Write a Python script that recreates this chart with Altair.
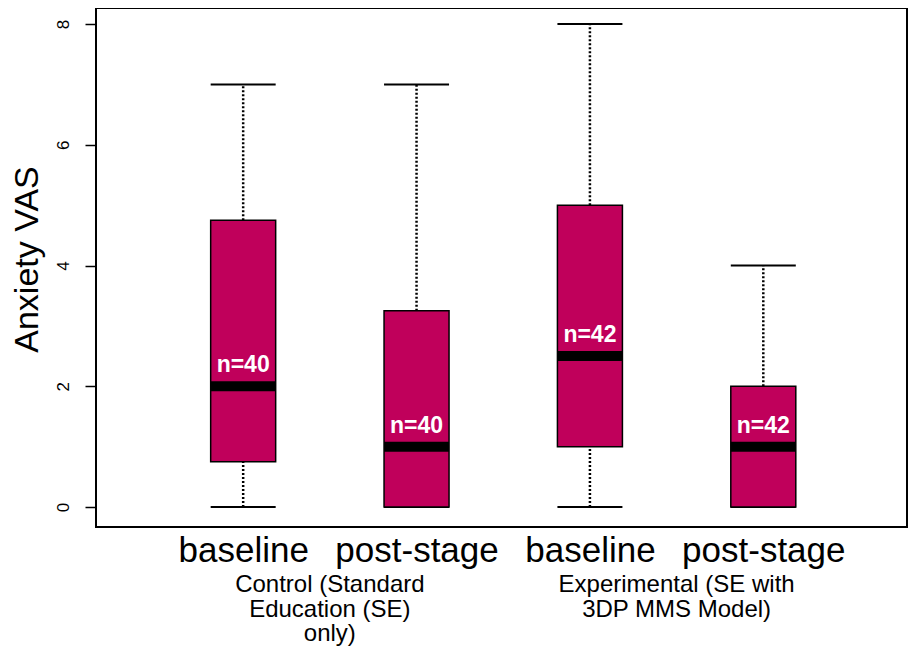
import altair as alt
import pandas as pd

# ---- data ----
positions = [1, 2, 3, 4]
stages = ["baseline", "post-stage", "baseline", "post-stage"]
mins = [0, 0, 0, 0]
q1s = [0.75, 0, 1, 0]
medians = [2, 1, 2.5, 1]
q3s = [4.75, 3.25, 5, 2]
maxs = [7, 7, 8, 4]
ns = ["n=40", "n=40", "n=42", "n=42"]

group_pos = [1.5, 3.5]
group_labels = ["Control (Standard\nEducation (SE)\nonly)",
                "Experimental (SE with\n3DP MMS Model)"]

y_ticks = [0, 2, 4, 6, 8]

df = pd.DataFrame({
    "pos": positions, "stage": stages, "min": mins, "q1": q1s,
    "median": medians, "q3": q3s, "max": maxs, "n": ns,
})
gdf = pd.DataFrame({"pos": group_pos, "label": group_labels})

FONT = "Liberation Sans"
BOX_W = 65
FILL = "#C0005B"

label_list = "[" + ",".join("'%s'" % s for s in stages) + "]"

x_scale = alt.Scale(domain=[0.18, 4.8], nice=False, zero=False)
y_scale = alt.Scale(domain=[-0.331, 8.265], nice=False, zero=False)

x_axis = alt.Axis(
    values=positions, labelExpr=label_list + "[datum.value - 1]",
    title=None, grid=False, ticks=False, domain=False, tickSize=0,
    labelFontSize=35, labelFont=FONT, labelColor="black",
    labelPadding=34, labelBaseline="alphabetic", labelOverlap=False,
    labelFlush=False, labelBound=False,
)
y_axis = alt.Axis(
    values=y_ticks, format="d", title="Anxiety VAS", grid=False, domain=False,
    tickSize=11, tickColor="black", tickWidth=1.5,
    labelAngle=270, labelAlign="center", labelBaseline="bottom",
    labelFontSize=17, labelFont=FONT, labelColor="black", labelPadding=13,
    titleFontSize=34, titleFont=FONT, titleFontWeight="normal",
    titleColor="black", titleX=-69, titleY=251, titleBaseline="middle",
    titleAngle=270, titleAlign="center",
)

base = alt.Chart(df)
X = alt.X("pos:Q", scale=x_scale, axis=x_axis)

upper_whisker = base.mark_rule(color="black", strokeWidth=2.5, strokeDash=[2, 2]).encode(
    x=X, y=alt.Y("q3:Q", scale=y_scale, axis=y_axis), y2="max:Q")
lower_whisker = base.mark_rule(color="black", strokeWidth=2.5, strokeDash=[2, 2]).encode(
    x="pos:Q", y="min:Q", y2="q1:Q")
cap_top = base.mark_tick(orient="horizontal", size=BOX_W, thickness=2, color="black",
                         opacity=1).encode(x="pos:Q", y="max:Q")
cap_bot = base.mark_tick(orient="horizontal", size=BOX_W, thickness=2, color="black",
                         opacity=1).encode(x="pos:Q", y="min:Q")
boxes = base.mark_bar(size=BOX_W, color=FILL, stroke="black", strokeWidth=1.5,
                      opacity=1).encode(x="pos:Q", y="q1:Q", y2="q3:Q")
med = base.mark_tick(orient="horizontal", size=BOX_W, thickness=10, color="black",
                     opacity=1).encode(x="pos:Q", y="median:Q")
nlab = base.mark_text(color="white", font=FONT, fontWeight="bold", fontSize=23,
                      baseline="middle", align="center", dy=-21).encode(
    x="pos:Q", y="median:Q", text="n:N")
groups = alt.Chart(gdf).mark_text(font=FONT, fontSize=24, lineHeight=24.5, lineBreak="\n",
                                  align="center", baseline="alphabetic", color="black").encode(
    x="pos:Q", y=alt.value(584), text="label:N")

chart = alt.layer(
    upper_whisker, lower_whisker, cap_top, cap_bot, boxes, med, nlab, groups
).properties(
    width=811, height=519,
    autosize=alt.AutoSizeParams(type="none"),
    padding={"left": 88, "top": 0, "right": 3, "bottom": 119},
    background="white",
).configure_view(
    stroke="black", strokeWidth=2
)

chart.save("out.html", embed_options={"renderer": "svg", "actions": False})
